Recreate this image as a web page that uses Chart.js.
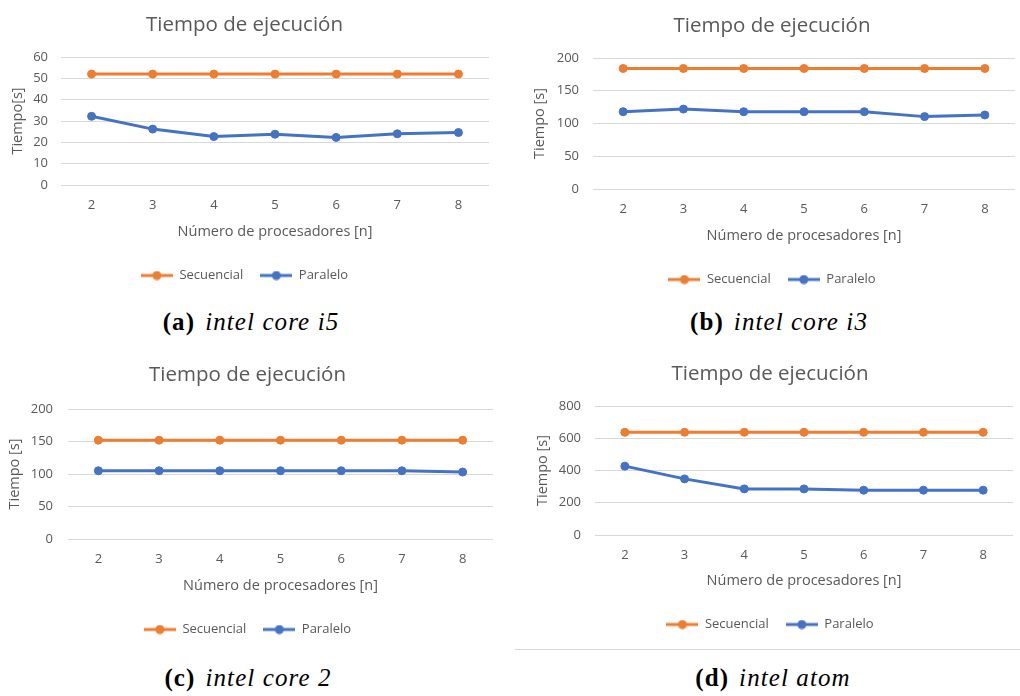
<!DOCTYPE html>
<html>
<head>
<meta charset="utf-8">
<script src="https://cdn.jsdelivr.net/npm/chart.js@4/dist/chart.umd.min.js"></script>
<style>
  body { margin: 0; background: #fff; width: 1020px; height: 696px; position: relative; overflow: hidden; }
  .box { position: absolute; }
  .cap { position: absolute; font-family: "Liberation Serif", serif; font-size: 25px; letter-spacing: 1.1px; color: #000; transform: translateX(-50%); white-space: nowrap; }
  .cap b { font-weight: bold; margin-right: 10px; }
  .cap i { font-style: italic; }
  .sep { position: absolute; left: 515px; top: 649px; width: 505px; height: 1px; background: #d9d9d9; }
</style>
</head>
<body>
<div class="box" id="boxA"><canvas id="chartA"></canvas></div>
<div class="box" id="boxB"><canvas id="chartB"></canvas></div>
<div class="box" id="boxC"><canvas id="chartC"></canvas></div>
<div class="box" id="boxD"><canvas id="chartD"></canvas></div>
<div class="sep"></div>
<div class="cap" style="left:251px; top:308px;"><b>(a)</b><i>intel core i5</i></div>
<div class="cap" style="left:779px; top:308px;"><b>(b)</b><i>intel core i3</i></div>
<div class="cap" style="left:248px; top:664px;"><b>(c)</b><i>intel core 2</i></div>
<div class="cap" style="left:773px; top:664px;"><b>(d)</b><i>intel atom</i></div>
<script>
// datos
const processors = ['2', '3', '4', '5', '6', '7', '8'];
const seriesNames = ['Secuencial', 'Paralelo'];

const i5Secuencial = [52, 52, 52, 52, 52, 52, 52];
const i5Paralelo = [32.2, 26.2, 22.7, 23.8, 22.3, 24.0, 24.6];

const i3Secuencial = [184, 184, 184, 184, 184, 184, 184];
const i3Paralelo = [118, 122, 118, 118, 118, 110.5, 113];

const core2Secuencial = [152, 152, 152, 152, 152, 152, 152];
const core2Paralelo = [105, 105, 105, 105, 105, 105, 103];

const atomSecuencial = [637, 637, 637, 637, 637, 637, 637];
const atomParalelo = [427, 348, 286, 286, 278, 278, 278];

const yTitles = ['Tiempo[s]', 'Tiempo [s]', 'Tiempo [s]', 'Tiempo [s]'];
const yMax = [60, 200, 200, 800];
const yStep = [10, 50, 50, 200];

const ORANGE = '#ED7D31';
const BLUE = '#4472C4';
const GREY = '#595959';
const FONT = "'Open Sans', sans-serif";

// little line+marker picture for the legend
function legendMark(color) {
    const c = document.createElement('canvas');
    c.width = 32;
    c.height = 10;
    const g = c.getContext('2d');
    g.strokeStyle = color;
    g.lineWidth = 3;
    g.beginPath();
    g.moveTo(0, 5);
    g.lineTo(32, 5);
    g.stroke();
    g.fillStyle = color;
    g.beginPath();
    g.arc(16, 5, 4.5, 0, Math.PI * 2);
    g.fill();
    return c;
}
const marks = [legendMark(ORANGE), legendMark(BLUE)];

// where each panel sits on the page (absolute px)
const panels = [
    { id: 'A', cl: 0, ct: 0, cw: 495, area: [61, 57, 489, 185], titleY: 25, tickY: 204, xTitleY: 231, legendY: 275, yTitleX: 18, tickRight: 48 },
    { id: 'B', cl: 527, ct: 0, cw: 493, area: [593, 58, 1017, 189], titleY: 26, tickY: 208, xTitleY: 235, legendY: 279, yTitleX: 540, tickRight: 579 },
    { id: 'C', cl: 0, ct: 350, cw: 498, area: [68, 409, 495, 539], titleY: 375, tickY: 558, xTitleY: 585, legendY: 629, yTitleX: 15, tickRight: 53 },
    { id: 'D', cl: 527, ct: 350, cw: 493, area: [595, 406, 1013, 535], titleY: 374, tickY: 554, xTitleY: 580, legendY: 624, yTitleX: 543, tickRight: 581 }
];
const allData = [
    [i5Secuencial, i5Paralelo],
    [i3Secuencial, i3Paralelo],
    [core2Secuencial, core2Paralelo],
    [atomSecuencial, atomParalelo]
];

function dataset(label, data, color) {
    return {
        label: label,
        data: data,
        borderColor: color,
        backgroundColor: color,
        pointBackgroundColor: color,
        pointBorderColor: color,
        borderWidth: 3,
        pointRadius: 4,
        pointBorderWidth: 1,
        tension: 0
    };
}

panels.forEach((p, k) => {
    const [aL, aT, aR, aB] = p.area;
    const titlePadTop = p.titleY - p.ct - 12;
    const titlePadBottom = (aT - p.ct) - titlePadTop - 24.6;
    const legendPad = 17;
    const legendH = 13 + legendPad + 10;
    const H = Math.round(p.legendY - p.ct + 16.5);
    const xH = H - legendH - (aB - p.ct);
    const yW = aL - p.cl;

    const box = document.getElementById('box' + p.id);
    box.style.left = p.cl + 'px';
    box.style.top = p.ct + 'px';
    box.style.width = p.cw + 'px';
    box.style.height = H + 'px';

    new Chart(document.getElementById('chart' + p.id), {
        type: 'line',
        data: {
            labels: processors,
            datasets: [
                dataset(seriesNames[0], allData[k][0], ORANGE),
                dataset(seriesNames[1], allData[k][1], BLUE)
            ]
        },
        options: {
            responsive: true,
            maintainAspectRatio: false,
            animation: false,
            layout: { padding: { left: 0, top: 0, bottom: 0, right: p.cl + p.cw - aR } },
            plugins: {
                title: {
                    display: true,
                    text: 'Tiempo de ejecución',
                    color: GREY,
                    font: { family: FONT, size: 20.5, weight: 'normal' },
                    padding: { top: titlePadTop, bottom: titlePadBottom }
                },
                legend: {
                    position: 'bottom',
                    labels: {
                        color: GREY,
                        font: { family: FONT, size: 13 },
                        padding: legendPad,
                        usePointStyle: true,
                        pointStyleWidth: 32,
                        generateLabels: function(chart) {
                            const items = Chart.defaults.plugins.legend.labels.generateLabels(chart);
                            items.forEach((it, i) => { it.pointStyle = marks[i]; });
                            return items;
                        }
                    }
                },
                tooltip: { enabled: false }
            },
            scales: {
                x: {
                    offset: true,
                    grid: { display: false },
                    border: { display: false },
                    ticks: { color: GREY, font: { family: FONT, size: 13 }, padding: p.tickY - aB - 14.5 },
                    title: {
                        display: true,
                        text: 'Número de procesadores [n]',
                        color: GREY,
                        font: { family: FONT, size: 14.5 },
                        padding: { top: 0, bottom: (aB + xH) - p.xTitleY - 9.5 }
                    },
                    afterFit: function(scale) { scale.height = xH; }
                },
                y: {
                    min: 0,
                    max: yMax[k],
                    grid: { color: '#D9D9D9', drawTicks: false },
                    border: { display: false },
                    ticks: { stepSize: yStep[k], color: GREY, font: { family: FONT, size: 13 }, padding: aL - p.tickRight },
                    title: {
                        display: true,
                        text: yTitles[k],
                        color: GREY,
                        font: { family: FONT, size: 14.5 },
                        padding: { top: p.yTitleX - p.cl - 8.7, bottom: 0 }
                    },
                    afterFit: function(scale) { scale.width = yW; }
                }
            }
        }
    });
});
</script>
</body>
</html>
